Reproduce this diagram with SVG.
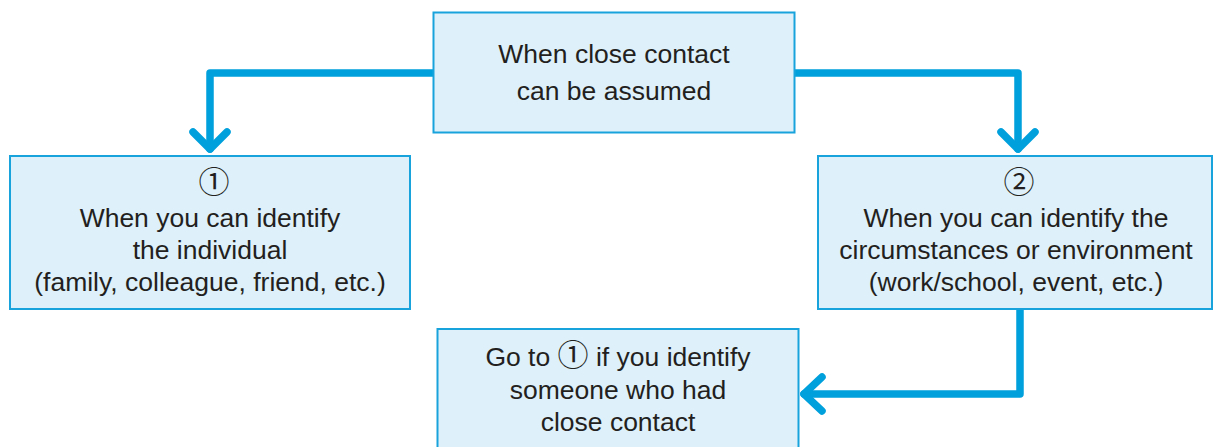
<svg xmlns="http://www.w3.org/2000/svg" width="1214" height="447" viewBox="0 0 1214 447">
<style>
.box{fill:#def0fa;stroke:#19a3dc;stroke-width:2}
.t{font-family:"Liberation Sans",Arial,"Noto Sans CJK JP",sans-serif;font-size:26.5px;fill:#231f20;text-anchor:middle}
.c{font-family:"Noto Sans CJK JP","DejaVu Sans",sans-serif;font-size:31px}
.ln{fill:none;stroke:#00a0dc;stroke-width:7.5;stroke-linecap:round;stroke-linejoin:round}
</style>
<rect width="1214" height="447" fill="#ffffff"/>
<g id="connectors">
<path class="ln" d="M433,73 H210 V149"/>
<path class="ln" d="M193,132 L210,149 L227,132"/>
<path class="ln" d="M795,73 H1018 V149"/>
<path class="ln" d="M1001,132 L1018,149 L1035,132"/>
<path class="ln" d="M1020,309 V394 H804"/>
<path class="ln" d="M822,377 L804,394 L822,411"/>
</g>
<g id="node-start">
<rect class="box" x="433.5" y="12.5" width="361" height="120"/>
<text class="t" x="614" y="63">When close contact</text>
<text class="t" x="614" y="100">can be assumed</text>
</g>
<g id="node-1">
<rect class="box" x="10" y="156" width="400" height="153"/>
<text class="t" x="214" y="193"><tspan class="c">①</tspan></text>
<text class="t" x="210" y="227">When you can identify</text>
<text class="t" x="210" y="259">the individual</text>
<text class="t" x="210" y="291">(family, colleague, friend, etc.)</text>
</g>
<g id="node-2">
<rect class="box" x="818" y="156" width="394" height="153"/>
<text class="t" x="1019" y="193"><tspan class="c">②</tspan></text>
<text class="t" x="1016" y="227">When you can identify the</text>
<text class="t" x="1016" y="259">circumstances or environment</text>
<text class="t" x="1016" y="291">(work/school, event, etc.)</text>
</g>
<g id="node-goto">
<rect class="box" x="437.5" y="329" width="361" height="130"/>
<text class="t" x="618" y="366">Go to <tspan class="c">①</tspan> if you identify</text>
<text class="t" x="618" y="399">someone who had</text>
<text class="t" x="618" y="431">close contact</text>
</g>
</svg>
